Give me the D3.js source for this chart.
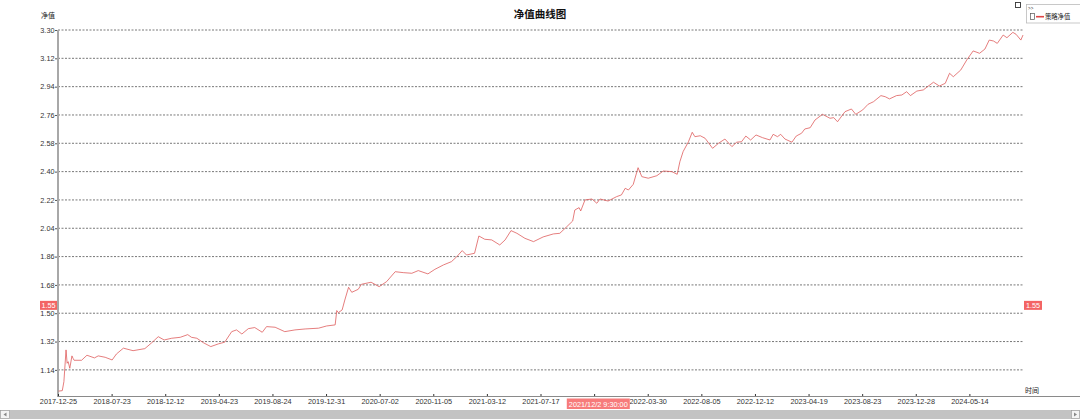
<!DOCTYPE html>
<html><head><meta charset="utf-8">
<script src="https://cdn.jsdelivr.net/npm/d3@7/dist/d3.min.js"></script>
<style>
html,body{margin:0;padding:0;background:#fff;}
svg{display:block;font-family:"Liberation Sans","Noto Sans CJK SC",sans-serif;}
</style></head><body>
<svg id="c" width="1080" height="419"></svg>
<script>
// ---- data ----
const titleText = "净值曲线图";
const seriesName = "策略净值";
const yTickValues = [1.14,1.32,1.50,1.68,1.86,2.04,2.22,2.40,2.58,2.76,2.94,3.12,3.30];
const xTickIndex = [0,100,200,300,400,500,600,700,800,900,1000,1100,1200,1300,1400,1500,1600,1700];
const xTickLabels = ["2017-12-25","2018-07-23","2018-12-12","2019-04-23","2019-08-24","2019-12-31","2020-07-02","2020-11-05","2021-03-12","2021-07-17","2021-11-24","2022-03-30","2022-08-05","2022-12-12","2023-04-19","2023-08-23","2023-12-28","2024-05-14"];
const pointIndex = [1,8,11,15,17,19,22,26,28,30,44,54,68,75,88,101,109,122,140,162,175,187,198,212,228,242,249,259,271,285,299,311,324,333,343,355,367,381,389,405,423,442,461,486,501,517,520,523,530,535,542,548,560,566,584,599,613,629,644,660,672,690,703,719,734,744,754,762,777,785,796,809,824,834,845,856,871,887,905,924,936,949,960,964,972,975,983,996,1005,1011,1026,1042,1051,1058,1064,1073,1082,1089,1101,1117,1129,1145,1155,1160,1166,1176,1183,1188,1198,1207,1221,1232,1244,1257,1266,1275,1283,1292,1302,1314,1328,1334,1342,1348,1356,1369,1377,1387,1393,1403,1412,1426,1440,1447,1454,1468,1480,1488,1501,1511,1521,1535,1543,1551,1564,1574,1583,1590,1602,1614,1622,1633,1644,1655,1663,1670,1684,1695,1707,1719,1729,1737,1745,1752,1763,1770,1781,1787,1796,1800];
const navValues = [1.005,1.008,1.065,1.267,1.182,1.192,1.150,1.229,1.214,1.201,1.201,1.233,1.216,1.229,1.220,1.203,1.241,1.278,1.262,1.275,1.313,1.351,1.330,1.341,1.347,1.364,1.347,1.341,1.313,1.288,1.305,1.316,1.383,1.394,1.368,1.402,1.409,1.379,1.415,1.411,1.383,1.394,1.400,1.405,1.419,1.426,1.517,1.504,1.521,1.584,1.665,1.633,1.652,1.684,1.697,1.669,1.701,1.764,1.758,1.754,1.771,1.750,1.779,1.807,1.828,1.860,1.898,1.870,1.881,1.991,1.970,1.966,1.934,1.966,2.025,2.008,1.976,1.955,1.985,2.004,2.008,2.050,2.086,2.156,2.171,2.150,2.220,2.226,2.199,2.226,2.213,2.241,2.252,2.294,2.283,2.319,2.425,2.368,2.358,2.374,2.404,2.400,2.383,2.463,2.527,2.590,2.650,2.622,2.628,2.612,2.548,2.580,2.607,2.559,2.587,2.590,2.626,2.601,2.633,2.616,2.601,2.637,2.622,2.637,2.607,2.587,2.626,2.644,2.671,2.679,2.728,2.764,2.739,2.743,2.717,2.781,2.798,2.764,2.792,2.828,2.844,2.883,2.876,2.862,2.883,2.887,2.908,2.883,2.912,2.919,2.940,2.968,2.944,2.961,3.025,3.003,3.046,3.109,3.167,3.152,3.179,3.236,3.230,3.215,3.268,3.251,3.285,3.273,3.236,3.268];
const cursorValue = 1.55;
const cursorLabel = "2021/12/2 9:30:00";
const cursorIndex = 1005;

// ---- layout ----
const L = 58, R = 1023, T = 30, B = 396;
const svg = d3.select("#c");
const x = d3.scaleLinear().domain([0, 1800]).range([L, R]);
const y = d3.scaleLinear().domain([0.974, 3.30]).range([B, T]);
const cx = x(cursorIndex);

// title
svg.append("text").attr("x", 540).attr("y", 18).attr("text-anchor", "middle")
  .attr("font-size", 10.5).attr("font-weight", "bold").attr("fill", "#111").text(titleText);
svg.append("text").attr("x", 41).attr("y", 18).attr("font-size", 7)
  .attr("fill", "#222").text("净值");

// grid
svg.append("g").selectAll("line").data(yTickValues).join("line")
  .attr("x1", L).attr("x2", R).attr("y1", d => y(d)).attr("y2", d => y(d))
  .attr("stroke", "#555").attr("stroke-width", 0.8).attr("stroke-dasharray", "2,1.5");

// y axis
const ya = svg.append("g").attr("transform", `translate(${L},0)`)
  .call(d3.axisLeft(y).tickValues(yTickValues).tickFormat(d3.format(".2f")).tickSize(3));
ya.select(".domain").remove();
ya.selectAll("line").attr("stroke", "#555");
ya.selectAll("text").attr("font-size", 7.3).attr("fill", "#333").attr("x", -3.5);
svg.append("line").attr("x1", L).attr("x2", L).attr("y1", T).attr("y2", B + 1)
  .attr("stroke", "#a8a8a8").attr("stroke-width", 2);

// x axis (the label hidden under the cursor box is not drawn)
const xa = svg.append("g").attr("transform", `translate(0,${B})`)
  .call(d3.axisBottom(x).tickValues(xTickIndex)
    .tickFormat((d, i) => Math.abs(x(d) - cx) < 40 ? "" : xTickLabels[i]).tickSize(2));
xa.select(".domain").remove();
xa.selectAll("line").attr("stroke", "#333").attr("y1", -2).attr("y2", 1);
xa.selectAll("text").attr("font-size", 7.3).attr("fill", "#333").attr("dy", "0.95em").attr("y", 1.5);
svg.append("line").attr("x1", L).attr("x2", 1080).attr("y1", B + 0.5).attr("y2", B + 0.5)
  .attr("stroke", "#8a8a8a").attr("stroke-width", 1.2);
svg.append("text").attr("x", 1025).attr("y", 393).attr("font-size", 7).attr("fill", "#222").text("时间");

// line
const data = pointIndex.map((d, i) => [d, navValues[i]]);
svg.append("path").datum(data)
  .attr("d", d3.line().x(d => x(d[0])).y(d => y(d[1])))
  .attr("fill", "none").attr("stroke", "#dd5555").attr("stroke-opacity", 0.85).attr("stroke-width", 0.9);

// cursor labels
const cy = y(cursorValue);
[[40, 57], [1024, 1042]].forEach(([a, b]) => {
  svg.append("rect").attr("x", a).attr("y", cy - 4.5).attr("width", b - a).attr("height", 9).attr("fill", "#f36464");
  svg.append("text").attr("x", (a + b) / 2).attr("y", cy + 2.5).attr("text-anchor", "middle")
    .attr("font-size", 7.3).attr("fill", "#fff").text(d3.format(".2f")(cursorValue));
});
svg.append("rect").attr("x", cx - 30).attr("y", 398.5).attr("width", 63).attr("height", 10.5).attr("fill", "#f77b7b");
svg.append("text").attr("x", cx + 1.5).attr("y", 406.5).attr("text-anchor", "middle")
  .attr("font-size", 7.3).attr("fill", "#fff").text(cursorLabel);

// scrollbar
svg.append("rect").attr("x", 0).attr("y", 410).attr("width", 1080).attr("height", 9).attr("fill", "#c3c3c3");
svg.append("rect").attr("x", 0.5).attr("y", 410.5).attr("width", 9).attr("height", 8).attr("fill", "#f4f4f4").attr("stroke", "#999").attr("stroke-width", 0.6);
svg.append("path").attr("d", "M6.5,412.5 L3.5,414.5 L6.5,416.5 Z").attr("fill", "#888");
svg.append("rect").attr("x", 1071.5).attr("y", 410.5).attr("width", 8).attr("height", 8).attr("fill", "#f4f4f4").attr("stroke", "#999").attr("stroke-width", 0.6);
svg.append("path").attr("d", "M1074,412.5 L1077,414.5 L1074,416.5 Z").attr("fill", "#888");

// legend
svg.append("rect").attr("x", 1015.5).attr("y", 2.5).attr("width", 5).attr("height", 5).attr("fill", "#fff").attr("stroke", "#333").attr("stroke-width", 0.9);
svg.append("rect").attr("x", 1026.5).attr("y", 4.5).attr("width", 54).attr("height", 18.5).attr("fill", "#fff").attr("stroke", "#bbb").attr("stroke-width", 0.8);
svg.append("text").attr("x", 1028).attr("y", 10).attr("font-size", 4.5).attr("fill", "#333").text(">>");
svg.append("rect").attr("x", 1030.5).attr("y", 13.5).attr("width", 4).attr("height", 6).attr("fill", "#fff").attr("stroke", "#555").attr("stroke-width", 0.7);
svg.append("line").attr("x1", 1036).attr("x2", 1044).attr("y1", 16.7).attr("y2", 16.7).attr("stroke", "#e04444").attr("stroke-width", 1.6);
svg.append("text").attr("x", 1045).attr("y", 19).attr("font-size", 6.3).attr("fill", "#222").text(seriesName);
</script></body></html>
